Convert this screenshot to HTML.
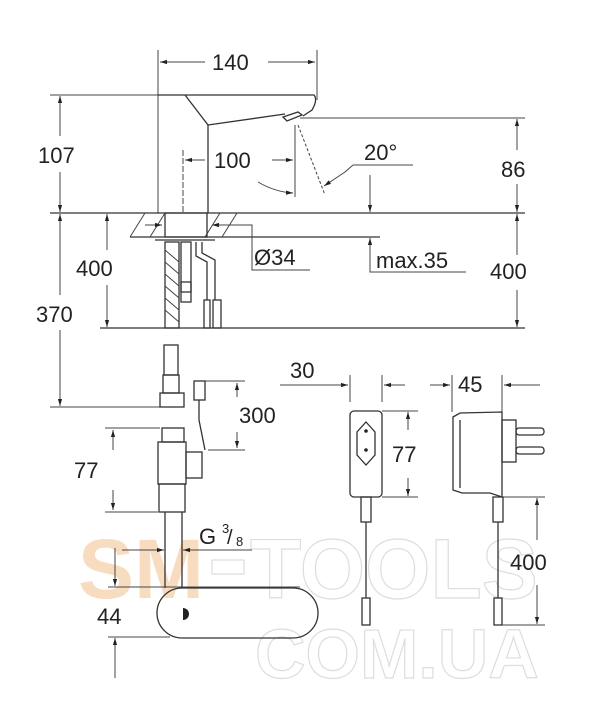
<!DOCTYPE html>
<html><head><style>
html,body{margin:0;padding:0;background:#fff;}
svg{display:block;}
text{font-family:"Liberation Sans",sans-serif;fill:#222;}
.l{stroke:#333;stroke-width:1.3;fill:none;}
.t{stroke:#444;stroke-width:1;fill:none;}
.d{font-size:22px;}
</style></head><body>
<svg width="600" height="722" viewBox="0 0 600 722" xmlns="http://www.w3.org/2000/svg">
<defs>
<marker id="a" viewBox="0 0 10 10" refX="10" refY="5" markerWidth="9" markerHeight="7" orient="auto-start-reverse"><path d="M0,2 L10,5 L0,8 z" fill="#222"/></marker>
</defs>
<!-- watermark -->
<text x="78" y="598" font-size="84" font-weight="bold" fill="#f8dcc0" style="fill:#f8dcc0">SM</text>
<rect x="212" y="560" width="32" height="14" fill="none" stroke="#ddd" stroke-width="1.2"/>
<text x="250" y="598" font-size="84" font-weight="bold" style="fill:none;stroke:#ddd;stroke-width:1.2">TOOLS</text>
<text x="255" y="678" font-size="70" font-weight="bold" style="fill:none;stroke:#ddd;stroke-width:1.2">COM.UA</text>

<!-- top 140 -->
<line class="t" x1="158" y1="50" x2="158" y2="213"/>
<line class="t" x1="317" y1="50" x2="317" y2="100"/>
<line class="t" x1="160" y1="62" x2="205" y2="62" marker-start="url(#a)"/>
<line class="t" x1="268" y1="62" x2="315" y2="62" marker-end="url(#a)"/>
<text class="d" x="212" y="70">140</text>

<!-- faucet -->
<line class="t" x1="50" y1="95" x2="158" y2="95"/>
<path class="l" d="M158,95 L314,95 Q318,100 312,110 L303,116"/>
<path class="l" d="M185,95 L208,125 L208,213"/>
<path class="l" d="M208,125 L285,114"/>
<path class="l" d="M283,117 L298,112 L302,115 L287,121 Z"/>
<line class="t" x1="300" y1="118" x2="525" y2="118"/>
<line class="t" x1="298" y1="125" x2="325" y2="195" stroke-dasharray="3,2"/>
<!-- 100 -->
<line class="t" x1="183" y1="150" x2="183" y2="213" stroke-dasharray="6,2"/>
<line class="t" x1="295" y1="125" x2="295" y2="197"/>
<line class="t" x1="185" y1="160" x2="205" y2="160" marker-start="url(#a)"/>
<line class="t" x1="272" y1="160" x2="293" y2="160" marker-end="url(#a)"/>
<text class="d" x="214" y="168">100</text>
<path class="t" d="M258,182 Q275,192 293,193" marker-end="url(#a)"/>
<!-- 20 deg -->
<line class="t" x1="353" y1="165" x2="413" y2="165"/>
<path class="t" d="M353,165 L345,172 L324,186" marker-end="url(#a)"/>
<text class="d" x="364" y="160">20°</text>
<line class="t" x1="370" y1="175" x2="370" y2="212" marker-end="url(#a)"/>

<!-- counter -->
<line class="l" x1="50" y1="213" x2="525" y2="213"/>
<line class="l" x1="130" y1="237" x2="380" y2="237"/>
<path class="t" d="M130,237 L145,213 M150,237 L165,213 M205,237 L220,213 M222,237 L237,213"/>
<rect class="l" x="165" y="213" width="42" height="24"/>
<line class="l" x1="155" y1="240" x2="215" y2="240"/>
<line class="t" x1="145" y1="225" x2="162" y2="225" marker-end="url(#a)"/>
<line class="t" x1="230" y1="225" x2="212" y2="225" marker-end="url(#a)"/>
<path class="t" d="M230,225 L252,225 L252,270 L310,270"/>
<text class="d" x="254" y="265">Ø34</text>
<line class="t" x1="370" y1="252" x2="370" y2="238" marker-end="url(#a)"/>
<path class="t" d="M370,252 L370,272 L466,272"/>
<text class="d" x="376" y="268">max.35</text>
<!-- hoses -->
<rect class="l" x="165" y="242" width="14" height="86"/>
<path class="t" d="M165,250 L179,262 M165,262 L179,274 M165,274 L179,286 M165,286 L179,298 M165,298 L179,310 M165,310 L179,322"/>
<rect class="l" x="181" y="242" width="10" height="50"/>
<rect class="l" x="181" y="282" width="10" height="20"/>
<path class="l" d="M196,242 L196,256 L207,262 L207,300 M202,242 L202,253 L215,260 L215,300"/>
<rect class="l" x="204" y="300" width="6" height="28"/>
<rect class="l" x="213" y="300" width="8" height="28"/>
<line class="l" x1="100" y1="328" x2="525" y2="328"/>

<!-- left dims -->
<line class="t" x1="60" y1="96" x2="60" y2="136" marker-start="url(#a)"/>
<line class="t" x1="60" y1="172" x2="60" y2="212" marker-end="url(#a)"/>
<text class="d" x="38" y="163">107</text>
<line class="t" x1="107" y1="214" x2="107" y2="250" marker-start="url(#a)"/>
<line class="t" x1="107" y1="285" x2="107" y2="327" marker-end="url(#a)"/>
<text class="d" x="76" y="276">400</text>
<line class="t" x1="60" y1="214" x2="60" y2="295" marker-start="url(#a)"/>
<line class="t" x1="60" y1="330" x2="60" y2="406" marker-end="url(#a)"/>
<text class="d" x="36" y="322">370</text>
<line class="t" x1="50" y1="407" x2="165" y2="407"/>

<!-- right dims -->
<line class="t" x1="517" y1="119" x2="517" y2="150" marker-start="url(#a)"/>
<line class="t" x1="517" y1="184" x2="517" y2="212" marker-end="url(#a)"/>
<text class="d" x="501" y="177">86</text>
<line class="t" x1="517" y1="214" x2="517" y2="255" marker-start="url(#a)"/>
<line class="t" x1="517" y1="290" x2="517" y2="327" marker-end="url(#a)"/>
<text class="d" x="490" y="279">400</text>

<!-- lower hose -->
<rect class="l" x="164" y="345" width="14" height="30"/>
<rect class="l" x="163" y="375" width="16" height="18"/>
<rect class="l" x="160" y="393" width="24" height="14"/>
<!-- 300 cable -->
<rect class="l" x="194" y="381" width="11" height="19"/>
<path class="l" d="M199,400 L199,420 L205,450"/>
<line class="t" x1="205" y1="381" x2="245" y2="381"/>
<line class="t" x1="208" y1="450" x2="245" y2="450"/>
<line class="t" x1="237" y1="397" x2="237" y2="383" marker-end="url(#a)"/>
<line class="t" x1="237" y1="432" x2="237" y2="448" marker-end="url(#a)"/>
<text class="d" x="239" y="423">300</text>
<!-- valve -->
<rect class="l" x="162" y="428" width="22" height="14"/>
<rect class="l" x="158" y="442" width="28" height="42"/>
<rect class="l" x="186" y="452" width="16" height="26"/>
<rect class="l" x="159" y="484" width="26" height="28"/>
<line class="t" x1="105" y1="428" x2="160" y2="428"/>
<line class="t" x1="105" y1="512" x2="158" y2="512"/>
<line class="t" x1="113" y1="450" x2="113" y2="430" marker-end="url(#a)"/>
<line class="t" x1="113" y1="490" x2="113" y2="510" marker-end="url(#a)"/>
<text class="d" x="74" y="478">77</text>
<!-- G3/8 -->
<line class="l" x1="165" y1="512" x2="165" y2="588"/>
<line class="l" x1="182" y1="512" x2="182" y2="588"/>
<line class="t" x1="122" y1="550" x2="164" y2="550" marker-end="url(#a)"/>
<line class="t" x1="215" y1="550" x2="183" y2="550" marker-end="url(#a)"/>
<line class="t" x1="215" y1="550" x2="252" y2="550"/>
<text class="d" x="199" y="544">G</text>
<text x="222" y="533" font-size="13">3</text>
<text x="227" y="544" font-size="20">/</text>
<text x="236" y="546" font-size="13">8</text>
<!-- 44 -->
<line class="t" x1="108" y1="587" x2="300" y2="587"/>
<line class="t" x1="108" y1="637" x2="170" y2="637"/>
<line class="t" x1="115" y1="548" x2="115" y2="586" marker-end="url(#a)"/>
<line class="t" x1="115" y1="678" x2="115" y2="638" marker-end="url(#a)"/>
<text class="d" x="97" y="624">44</text>
<rect class="l" x="157" y="588" width="161" height="50" rx="25"/>
<path d="M183,608 A6,6 0 0 1 183,620 Z" fill="#222"/>

<!-- adapter 1 -->
<line class="t" x1="280" y1="385" x2="348" y2="385" marker-end="url(#a)"/>
<text class="d" x="290" y="378">30</text>
<line class="t" x1="350" y1="375" x2="350" y2="402"/>
<line class="t" x1="382" y1="375" x2="382" y2="402"/>
<line class="t" x1="405" y1="385" x2="384" y2="385" marker-end="url(#a)"/>
<rect class="l" x="350" y="411" width="32" height="86" rx="4"/>
<path class="l" d="M366,422 L375,432 L375,455 L366,465 L357,455 L357,432 Z"/>
<circle cx="366" cy="431" r="1.8" fill="#222"/><circle cx="366" cy="450" r="1.8" fill="#222"/>
<line class="t" x1="382" y1="411" x2="418" y2="411"/>
<line class="t" x1="382" y1="497" x2="418" y2="497"/>
<line class="t" x1="408" y1="430" x2="408" y2="412" marker-end="url(#a)"/>
<line class="t" x1="408" y1="478" x2="408" y2="496" marker-end="url(#a)"/>
<text class="d" x="392" y="462">77</text>
<rect class="l" x="361" y="497" width="10" height="25"/>
<line class="l" x1="366" y1="522" x2="366" y2="598"/>
<rect class="l" x="362" y="598" width="8" height="27"/>
<!-- adapter 2 -->
<line class="t" x1="452" y1="375" x2="452" y2="412"/>
<line class="t" x1="502" y1="375" x2="502" y2="412"/>
<line class="t" x1="430" y1="385" x2="450" y2="385" marker-end="url(#a)"/>
<line class="t" x1="540" y1="385" x2="504" y2="385" marker-end="url(#a)"/>
<text class="d" x="458" y="392">45</text>
<path class="l" d="M453,417 L460,413 L502,412 L502,497 L490,493 L462,493 L453,490 Z"/>
<line class="l" x1="460" y1="420" x2="460" y2="488"/>
<rect class="l" x="502" y="420" width="14" height="42"/>
<rect class="l" x="516" y="428" width="28" height="7" rx="3"/>
<rect class="l" x="516" y="447" width="28" height="7" rx="3"/>
<rect class="l" x="493" y="497" width="10" height="25"/>
<line class="l" x1="498" y1="522" x2="498" y2="598"/>
<rect class="l" x="494" y="598" width="8" height="27"/>
<line class="t" x1="502" y1="497" x2="545" y2="497"/>
<line class="t" x1="502" y1="625" x2="545" y2="625"/>
<line class="t" x1="537" y1="540" x2="537" y2="498" marker-end="url(#a)"/>
<line class="t" x1="537" y1="585" x2="537" y2="624" marker-end="url(#a)"/>
<text class="d" x="510" y="570">400</text>
</svg>
</body></html>
